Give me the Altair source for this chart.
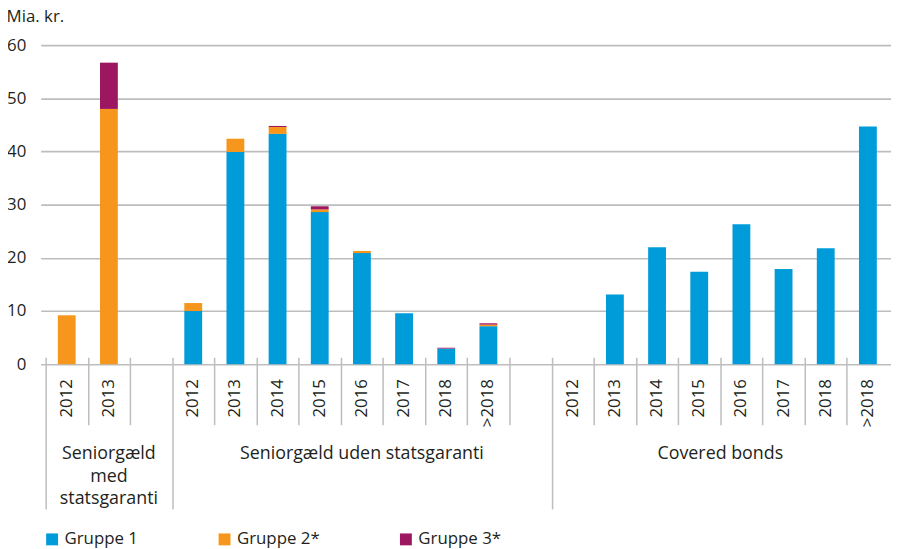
import altair as alt
import pandas as pd

# ---------------- data ----------------
series = ["Gruppe 1", "Gruppe 2*", "Gruppe 3*"]
colors = ["#009bd9", "#f7961d", "#9c1660"]

group_names = ["Seniorgæld\nmed\nstatsgaranti", "Seniorgæld uden statsgaranti", "Covered bonds"]

cats_g1 = ["2012", "2013"]
cats_g2 = ["2012", "2013", "2014", "2015", "2016", "2017", "2018", ">2018"]
cats_g3 = ["2012", "2013", "2014", "2015", "2016", "2017", "2018", ">2018"]

g1_gruppe1 = [0.0, 0.0]
g1_gruppe2 = [9.2, 48.0]
g1_gruppe3 = [0.0, 8.7]

g2_gruppe1 = [10.0, 39.9, 43.3, 28.6, 20.9, 9.6, 2.95, 7.15]
g2_gruppe2 = [1.5, 2.5, 1.3, 0.5, 0.4, 0.0, 0.0, 0.3]
g2_gruppe3 = [0.0, 0.0, 0.2, 0.6, 0.0, 0.0, 0.15, 0.25]

g3_gruppe1 = [0.0, 13.1, 22.0, 17.4, 26.3, 17.9, 21.8, 44.7]
g3_gruppe2 = [0.0] * 8
g3_gruppe3 = [0.0] * 8

# slot layout: group 1 (2 slots + 1 empty), group 2 (8 + 1 empty), group 3 (8)
g1_start, g2_start, g3_start, total_slots = 0, 3, 12, 20

# ---------------- tables ----------------
rows, labels = [], []
for start, cats, vals in [
    (g1_start, cats_g1, [g1_gruppe1, g1_gruppe2, g1_gruppe3]),
    (g2_start, cats_g2, [g2_gruppe1, g2_gruppe2, g2_gruppe3]),
    (g3_start, cats_g3, [g3_gruppe1, g3_gruppe2, g3_gruppe3]),
]:
    for i, c in enumerate(cats):
        pos = start + i + 0.5
        labels.append({"pos": pos, "label": c})
        for k, s in enumerate(series):
            rows.append({"pos": pos, "serie": s, "value": vals[k][i], "ord": k})
bars_df = pd.DataFrame(rows)
labels_df = pd.DataFrame(labels)

group_df = pd.DataFrame({
    "pos": [(g1_start + g2_start) / 2, (g2_start + g3_start) / 2, (g3_start + total_slots) / 2],
    "name": group_names,
})

boundaries = list(range(0, total_slots))
group_bounds = [g1_start, g2_start, g3_start]

W, H = 858, 322
STEP = 43.05
FONT = "Open Sans"
FS = 17
TXT = "#231f20"
LINE = "#bdbdbd"

xs = alt.Scale(domain=[0, W / STEP], nice=False, zero=False)
ys = alt.Scale(domain=[0, 60], nice=False)

long_test = " || ".join(f"datum.value == {b}" for b in group_bounds)

bars = alt.Chart(bars_df).mark_bar(size=18).encode(
    x=alt.X("pos:Q", scale=xs,
            axis=alt.Axis(values=boundaries, labels=False, domain=False, grid=False,
                          ticks=True, tickColor=LINE, tickWidth=1.5, offset=-7,
                          tickSize={"condition": {"test": long_test, "value": 153},
                                    "value": 68},
                          title=None)),
    y=alt.Y("value:Q", stack="zero", scale=ys,
            axis=alt.Axis(values=[0, 10, 20, 30, 40, 50, 60], title=None, domain=False,
                          ticks=False, grid=True, gridColor=LINE, gridWidth=1.6,
                          labelPadding=15, labelFont=FONT, labelFontSize=FS,
                          labelColor=TXT)),
    color=alt.Color("serie:N", scale=alt.Scale(domain=series, range=colors),
                    legend=alt.Legend(title=None, orient="none", direction="horizontal",
                                      legendX=3, legendY=490, symbolType="square",
                                      symbolSize=144,
                                      labelFont=FONT, labelFontSize=FS, labelColor=TXT,
                                      labelOffset=4, columnPadding=78)),
    order=alt.Order("ord:Q"),
)

year_text = alt.Chart(labels_df).mark_text(
    angle=270, align="right", baseline="middle", font=FONT, fontSize=FS, color=TXT
).encode(x=alt.X("pos:Q", scale=xs), y=alt.value(H + 15), text="label:N")

group_text = alt.Chart(group_df).mark_text(
    align="center", baseline="alphabetic", font=FONT, fontSize=18, color=TXT,
    lineBreak="\n", lineHeight=22.5
).encode(x=alt.X("pos:Q", scale=xs), y=alt.value(H + 96), text="name:N")

chart = alt.layer(bars, year_text, group_text).properties(
    width=W, height=H,
    title=alt.TitleParams("Mia. kr.", anchor="start", offset=10, font=FONT,
                          fontSize=FS, fontWeight="normal", color=TXT),
    autosize=alt.AutoSizeParams(type="none"),
    padding={"left": 33, "top": 35, "right": 0, "bottom": 184},
).configure_view(stroke=None)

chart.save("out.html", embed_options={"renderer": "svg", "actions": False})
